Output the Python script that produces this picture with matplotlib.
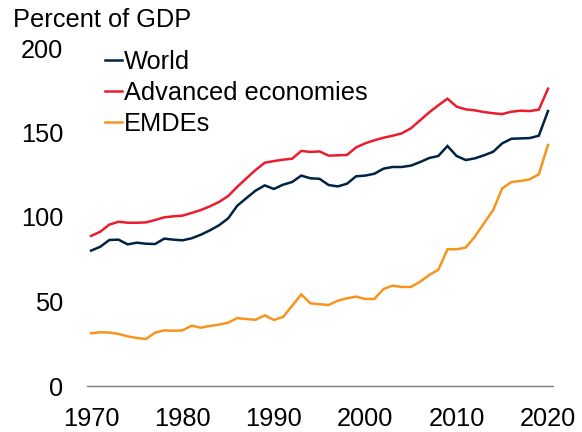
import matplotlib
matplotlib.use("Agg")
import matplotlib.pyplot as plt

plt.rcParams['font.family'] = ['Liberation Sans', 'DejaVu Sans']

years = list(range(1970, 2021))

world = [80.1, 82.4, 86.4, 86.6, 83.8, 84.8, 84.2, 84.0, 87.2, 86.6,
         86.2, 87.4, 89.5, 92.1, 95.1, 99.2, 106.7, 111.2, 115.6, 118.7,
         116.6, 119.1, 120.7, 124.5, 122.9, 122.6, 118.9, 118.1, 119.7, 124.1,
         124.5, 125.6, 128.6, 129.6, 129.6, 130.4, 132.5, 134.9, 136.1, 142.0,
         136.1, 133.7, 134.7, 136.5, 138.6, 143.6, 146.3, 146.5, 146.7, 148.1,
         162.7]

advanced = [88.8, 91.3, 95.5, 97.2, 96.6, 96.6, 96.8, 98.2, 99.8, 100.4,
            100.8, 102.4, 104.1, 106.3, 108.9, 112.4, 117.9, 122.9, 127.8, 132.1,
            133.1, 133.9, 134.5, 139.1, 138.5, 138.8, 136.3, 136.5, 136.7, 141.2,
            143.6, 145.4, 146.9, 148.1, 149.5, 152.5, 157.2, 161.9, 166.1, 170.0,
            165.3, 163.7, 163.1, 162.1, 161.4, 160.9, 162.3, 162.9, 162.7, 163.5,
            175.9]

emde = [31.2, 31.8, 31.6, 30.8, 29.4, 28.4, 27.8, 31.6, 32.9, 32.7,
        32.9, 35.7, 34.5, 35.5, 36.3, 37.5, 40.2, 39.6, 39.2, 41.8,
        39.1, 40.8, 47.5, 54.2, 48.9, 48.4, 47.9, 50.5, 51.9, 52.9,
        51.5, 51.5, 57.4, 59.4, 58.6, 58.6, 61.7, 65.7, 68.8, 80.9,
        80.9, 81.9, 88.4, 96.3, 104.1, 117.0, 120.7, 121.3, 122.3, 125.3,
        142.6]

labels = ["World", "Advanced economies", "EMDEs"]
colors = ["#002345", "#EB1C2D", "#F7941D"]
xticks = [1970, 1980, 1990, 2000, 2010, 2020]
yticks = [0, 50, 100, 150, 200]

FS = 18.3

fig = plt.figure(figsize=(5.82, 4.32), dpi=100)
ax = fig.add_axes([87/582, 1-386/432, (553-87)/582, (386-48)/432])

lines = []
for s, lab, c in zip([world, advanced, emde], labels, colors):
    l, = ax.plot(years, s, color=c, lw=1.8, label=lab, solid_joinstyle='miter')
    lines.append(l)

ax.set_xlim(1969.55, 2020.55)
ax.set_ylim(0, 200)
ax.set_xticks(xticks)
ax.set_yticks(yticks)
ax.tick_params(axis='both', length=0, labelsize=FS)
ax.tick_params(axis='y', pad=17)
ax.tick_params(axis='x', pad=15)
for side in ['top', 'right', 'left']:
    ax.spines[side].set_visible(False)
ax.spines['bottom'].set_color('#7f7f7f')
ax.spines['bottom'].set_linewidth(1.0)
ax.set_clip_on(False)

fig.text(13/582, 1-27/432, "Percent of GDP", fontsize=FS, va='baseline', ha='left')

fig.legend(handles=lines, labels=labels, loc='upper left',
           bbox_to_anchor=(105/582, 1-50/432), frameon=False, fontsize=FS,
           handlelength=0.65, handletextpad=0.08, labelspacing=0.27,
           borderpad=0, borderaxespad=0)

fig.savefig("out.png", dpi=100)
